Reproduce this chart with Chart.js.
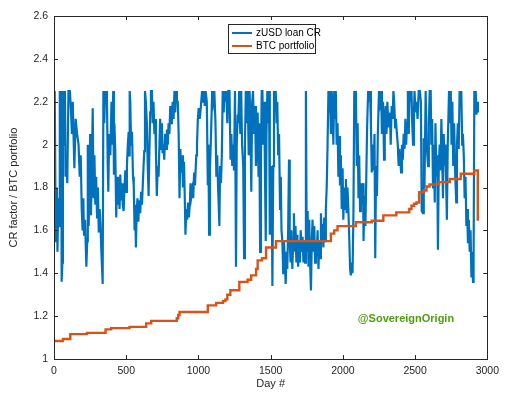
<!DOCTYPE html>
<html>
<head>
<meta charset="utf-8">
<script src="https://cdn.jsdelivr.net/npm/chart.js@4.4.1/dist/chart.umd.min.js"></script>
<style>
  html, body { margin: 0; padding: 0; background: #fff; }
  #wrap { width: 505px; height: 393px; }
</style>
</head>
<body>
<div id="wrap"><canvas id="myChart"></canvas></div>
<script>
// [day, value] pairs
const loanCR = [
  [0,1.97],[5,2.25],[10,1.75],[14,1.55],[20,1.8],[24,1.5],[30,1.75],[35,1.62],[40,2.25],[45,1.9],
  [50,2.25],[53,1.36],[58,1.45],[62,2.25],[70,2.0],[76,2.25],[80,1.85],[85,1.95],[92,1.82],[100,2.25],
  [110,2.25],[118,2.15],[124,2.05],[130,2.2],[135,2.05],[141,1.89],[150,2.12],[160,2.05],[170,2.0],[178,1.85],
  [185,1.95],[192,1.7],[198,1.6],[203,1.75],[208,1.575],[215,1.65],[224,1.43],[230,1.55],[234,2.0],[240,1.62],
  [246,1.8],[250,2.05],[256,1.67],[262,1.9],[268,2.17],[274,1.75],[280,1.95],[286,1.72],[292,1.85],[298,1.66],
  [304,1.8],[310,1.59],[316,1.7],[322,1.62],[328,1.5],[337,1.35],[342,2.25],[348,2.1],[354,2.25],[360,2.22],
  [366,2.25],[372,1.9],[376,1.78],[382,2.05],[390,1.95],[398,2.2],[404,2.0],[410,2.25],[415,1.86],
  [418,2.1],[424,1.98],[431,1.66],[437,1.85],[443,1.72],[448,1.84],[454,1.7],[459,1.86],[465,1.74],[471,1.82],
  [476,1.72],[482,1.69],[488,1.8],[494,1.88],[500,1.78],[505,1.9],[511,2.0],[517,2.06],[521,1.95],[524,2.25],
  [528,2.2],[534,2.0],[540,2.06],[547,1.85],[552,1.81],[558,1.6],[562,1.72],[567,1.52],[572,1.68],[578,1.75],
  [584,1.64],[590,1.74],[597,1.68],[603,1.78],[609,1.72],[614,1.8],[620,1.9],[625,1.97],[630,2.25],[636,2.2],
  [643,2.1],[649,1.9],[655,1.76],[660,1.95],[666,2.15],[671,2.25],[678,2.25],[683,2.1],[689,2.2],[695,2.05],
  [701,2.12],[706,1.95],[712,1.76],[718,1.9],[724,1.85],[730,2.0],[735,2.12],[741,1.98],[747,2.1],[752,1.96],
  [758,2.0],[763,1.93],[770,2.05],[776,1.98],[782,2.07],[788,2.0],[793,2.1],[799,2.05],[805,2.18],[811,2.1],
  [816,2.15],[822,2.2],[828,2.12],[834,2.25],[839,2.15],[845,2.25],[851,2.2],
  [857,2.2],[863,2.05],[869,1.75],[875,1.98],[880,1.87],[887,1.95],[893,1.8],[900,1.92],[906,1.73],[910,1.58],
  [916,1.7],[922,1.65],[928,1.73],[934,1.66],[941,1.73],[945,1.82],[951,1.76],[957,1.79],[964,1.75],[970,1.87],
  [976,1.81],[985,1.95],[990,2.0],[996,2.12],[1002,2.17],[1009,2.12],[1016,2.17],[1025,2.25],[1032,2.2],[1038,2.25],
  [1044,2.18],[1050,2.25],[1058,2.2],[1065,1.81],[1069,2.0],[1074,1.58],[1080,1.89],[1087,2.04],[1095,2.25],[1102,2.2],
  [1110,2.25],[1118,2.1],[1124,1.85],[1130,1.95],[1136,1.8],[1145,1.62],[1150,1.9],[1156,1.82],[1162,1.95],[1168,2.25],
  [1175,2.15],[1180,2.25],[1187,2.2],[1193,2.25],[1200,2.1],[1206,2.25],[1215,2.25],[1222,1.93],[1228,2.05],[1234,1.9],
  [1240,2.0],[1246,1.88],[1253,2.25],[1260,1.43],[1265,2.0],[1272,2.14],
  [1276,2.1],[1282,2.25],[1290,2.05],[1296,2.25],[1302,2.0],[1310,1.9],[1316,1.47],[1322,2.0],[1328,2.25],[1335,2.1],
  [1341,2.25],[1348,1.95],[1354,2.25],[1360,2.1],[1366,1.78],[1372,2.2],[1378,2.25],[1385,2.05],[1392,2.18],[1398,1.9],
  [1404,2.0],[1410,2.15],[1416,1.85],[1421,2.1],[1427,1.5],[1433,1.95],[1438,2.25],[1443,2.25],[1449,2.0],[1455,2.2],
  [1460,1.9],[1466,1.55],[1471,2.05],[1477,2.25],[1483,2.1],[1489,2.25],[1494,1.58],[1500,1.8],[1506,1.9],[1512,1.34],
  [1518,1.9],[1523,2.25],[1529,2.15],[1535,2.25],[1541,2.1],[1546,2.2],[1552,1.95],[1558,2.05],[1565,1.7],[1570,1.85],
  [1575,1.6],[1581,1.55],[1587,1.4],[1592,1.55],[1598,1.45],[1604,1.35],[1610,1.5],[1615,1.42],[1621,1.6],[1627,1.93],
  [1632,1.55],[1638,1.45],[1644,1.6],[1650,1.42],[1656,1.55],[1661,1.68],[1666,1.5],[1672,1.62],[1678,1.45],[1685,1.58],
  [1690,1.43],[1697,1.55],[1703,1.45],[1708,1.6],
  [1714,1.5],[1721,1.57],[1727,1.45],[1733,1.55],[1738,1.45],[1744,2.25],[1750,1.5],[1756,1.69],[1762,1.43],[1767,1.65],
  [1773,1.45],[1779,1.32],[1785,1.55],[1790,1.65],[1796,1.5],[1802,1.62],[1808,1.45],[1813,1.55],[1819,1.48],[1825,1.6],
  [1831,1.42],[1836,1.55],[1842,1.47],[1848,1.68],[1854,1.55],[1859,1.63],[1865,1.52],[1871,1.66],[1877,1.55],[1882,1.7],
  [1888,1.8],[1894,2.0],[1900,2.25],[1905,2.15],[1911,2.25],[1917,2.05],[1922,2.25],[1928,2.2],[1934,2.0],[1940,2.25],
  [1945,2.12],[1951,2.25],[1957,2.0],[1963,2.1],[1969,1.85],[1974,2.04],[1980,1.81],[1986,1.95],[1992,1.7],[1998,1.89],
  [2003,1.65],[2009,1.8],[2015,1.7],[2021,1.84],[2026,1.68],[2032,1.8],[2038,1.7],[2044,1.57],[2050,1.42],[2055,1.39],
  [2061,1.45],[2067,1.4],[2073,1.68],[2079,2.25],[2084,2.1],[2090,2.25],[2096,1.9],[2102,2.1],[2108,1.75],[2113,1.95],
  [2119,1.69],[2125,1.82],[2131,1.72],[2136,1.8],
  [2140,1.82],[2143,1.55],[2150,1.76],[2156,1.62],[2162,1.85],[2168,2.09],[2175,2.25],[2182,2.2],[2188,2.25],[2194,2.1],
  [2200,1.87],[2207,2.0],[2213,1.88],[2219,2.05],[2224,1.47],[2230,1.9],[2236,1.76],[2242,2.05],[2250,2.25],[2257,2.2],
  [2265,2.25],[2270,2.05],[2278,2.2],[2285,1.93],[2290,2.1],[2296,2.18],[2302,2.05],[2308,2.2],[2315,2.08],[2320,2.12],
  [2326,2.15],[2331,2.0],[2338,2.18],[2344,2.12],[2350,2.25],[2355,2.2],[2362,2.08],[2367,2.12],[2373,2.06],[2380,2.0],
  [2386,1.9],[2392,1.98],[2403,1.87],[2409,2.0],[2415,1.93],[2421,2.05],[2427,1.98],[2433,2.12],[2438,2.0],[2444,2.1],
  [2450,2.25],[2456,2.05],[2462,2.25],[2468,2.2],[2475,2.25],[2480,2.1],[2486,2.0],[2492,2.15],[2496,2.25],[2503,2.15],
  [2510,2.2],[2517,2.12],[2525,2.25],[2533,2.25],[2540,2.2],[2546,1.69],
  [2555,1.68],[2560,2.03],[2565,1.8],[2573,2.25],[2580,2.0],[2590,1.9],[2595,2.1],[2601,2.25],[2608,2.25],[2612,2.0],
  [2618,2.12],[2624,1.8],[2630,2.0],[2636,1.73],[2641,2.1],[2647,1.85],[2653,1.95],[2658,1.51],[2664,1.9],[2670,2.0],
  [2676,1.88],[2682,2.12],[2693,1.75],[2698,2.05],[2704,1.9],[2710,2.0],[2720,1.65],[2726,2.0],[2735,2.25],[2741,2.1],
  [2747,2.25],[2752,2.0],[2758,2.2],[2764,1.9],[2770,2.1],[2778,1.85],[2785,1.73],[2790,2.0],[2796,2.1],[2802,1.98],
  [2808,2.25],[2814,2.2],[2820,2.25],[2826,2.0],[2831,2.05],[2837,1.95],[2843,1.75],[2849,1.85],[2855,1.62],[2860,1.7],
  [2866,1.54],[2872,1.65],[2878,1.5],[2884,1.6],[2890,1.38],[2895,1.5],[2901,1.36],[2905,1.45],[2910,2.25],[2915,2.15],
  [2920,2.25],[2925,2.14],[2930,2.2],[2935,2.15]
];

// step changes of the BTC portfolio: [day, new value]
const btcPortfolio = [
  [0,1.084],[62,1.093],[113,1.116],[228,1.122],[357,1.138],[396,1.144],[523,1.15],[638,1.166],[673,1.178],
  [850,1.19],[860,1.205],[869,1.219],[1065,1.25],[1123,1.262],[1170,1.27],[1187,1.278],[1200,1.3],[1221,1.321],
  [1283,1.36],[1340,1.37],[1365,1.39],[1399,1.42],[1410,1.46],[1440,1.47],[1468,1.52],[1537,1.55],[1917,1.585],
  [1940,1.6],[1963,1.62],[2090,1.638],[2200,1.645],[2280,1.67],[2370,1.684],[2460,1.7],[2475,1.715],[2493,1.724],
  [2510,1.73],[2528,1.778],[2560,1.786],[2579,1.805],[2600,1.814],[2666,1.825],[2740,1.84],[2816,1.864],
  [2910,1.879],[2933,1.879],[2934,1.645]
];

const seriesNames = ['zUSD loan CR', 'BTC portfolio'];
const seriesColors = ['#0072BD', '#D95319'];
const xTicks = [0, 500, 1000, 1500, 2000, 2500, 3000];
const yTicks = [1, 1.2, 1.4, 1.6, 1.8, 2, 2.2, 2.4, 2.6];
const watermark = '@SovereignOrigin';

const axisColor = '#262626';
const font = "'Liberation Sans', Arial, sans-serif";

const toPoints = arr => arr.map(p => ({ x: p[0], y: p[1] }));

// box axes, inward ticks, legend box and watermark
const matlabLook = {
    id: 'matlabLook',
    afterDatasetsDraw(chart) {
        const { ctx, chartArea: a, scales: { x, y } } = chart;
        ctx.save();
        ctx.strokeStyle = axisColor;
        ctx.lineWidth = 1;
        ctx.beginPath();
        x.ticks.forEach(t => {
            const px = Math.round(x.getPixelForValue(t.value)) + 0.5;
            ctx.moveTo(px, a.bottom); ctx.lineTo(px, a.bottom - 4);
            ctx.moveTo(px, a.top); ctx.lineTo(px, a.top + 4);
        });
        y.ticks.forEach(t => {
            const py = Math.round(y.getPixelForValue(t.value)) + 0.5;
            ctx.moveTo(a.left, py); ctx.lineTo(a.left + 4, py);
            ctx.moveTo(a.right, py); ctx.lineTo(a.right - 4, py);
        });
        ctx.stroke();
        ctx.strokeRect(Math.round(a.left) + 0.5, Math.round(a.top) + 0.5,
            Math.round(a.right - a.left), Math.round(a.bottom - a.top));

        // legend
        const lx = 228.5, ly = 24.5, lw = 87, lh = 29;
        ctx.fillStyle = '#fff';
        ctx.fillRect(lx, ly, lw, lh);
        ctx.strokeRect(lx, ly, lw, lh);
        ctx.font = '10px ' + font;
        ctx.textBaseline = 'middle';
        chart.data.datasets.forEach((ds, i) => {
            const yy = 33 + i * 13;
            ctx.strokeStyle = ds.borderColor;
            ctx.lineWidth = 2;
            ctx.beginPath();
            ctx.moveTo(232, yy); ctx.lineTo(252, yy);
            ctx.stroke();
            ctx.fillStyle = '#000';
            ctx.fillText(ds.label, 256, yy);
        });

        // watermark
        ctx.font = 'bold 11px ' + font;
        ctx.fillStyle = '#4ca00e';
        ctx.textAlign = 'center';
        ctx.fillText(watermark, 406, 319);
        ctx.restore();
    }
};

const data = {
    datasets: [{
        label: seriesNames[0],
        data: toPoints(loanCR),
        borderColor: seriesColors[0],
        borderWidth: 2.2,
        pointRadius: 0,
        order: 1
    }, {
        label: seriesNames[1],
        data: toPoints(btcPortfolio),
        borderColor: seriesColors[1],
        borderWidth: 2.4,
        pointRadius: 0,
        stepped: 'before',
        order: 0
    }]
};

const config = {
    type: 'line',
    data: data,
    plugins: [matlabLook],
    options: {
        responsive: false,
        animation: false,
        layout: { padding: { left: 0, top: 16, right: 17, bottom: 0 } },
        plugins: { legend: { display: false }, tooltip: { enabled: false } },
        scales: {
            x: {
                type: 'linear',
                min: 0, max: 3000,
                afterBuildTicks: s => { s.ticks = xTicks.map(v => ({ value: v })); },
                afterFit: s => { s.height = 34; },
                grid: { display: false, drawTicks: false },
                border: { display: false },
                ticks: { color: axisColor, font: { family: font, size: 10.5 }, padding: 6, maxRotation: 0, callback: v => String(v) },
                title: { display: true, text: 'Day #', color: axisColor, font: { family: font, size: 11 }, padding: { top: 1, bottom: 2 } }
            },
            y: {
                type: 'linear',
                min: 1, max: 2.6,
                afterBuildTicks: s => { s.ticks = yTicks.map(v => ({ value: v })); },
                afterFit: s => { s.width = 54; },
                grid: { display: false, drawTicks: false },
                border: { display: false },
                ticks: { color: axisColor, font: { family: font, size: 10.5 }, padding: 6, callback: v => String(+v.toFixed(1)) },
                title: { display: true, text: 'CR factor / BTC portfolio', color: axisColor, font: { family: font, size: 11 }, padding: { top: 7, bottom: 2 } }
            }
        }
    }
};

const canvas = document.getElementById('myChart');
canvas.width = 505;
canvas.height = 393;
const myChart = new Chart(canvas, config);
</script>
</body>
</html>
